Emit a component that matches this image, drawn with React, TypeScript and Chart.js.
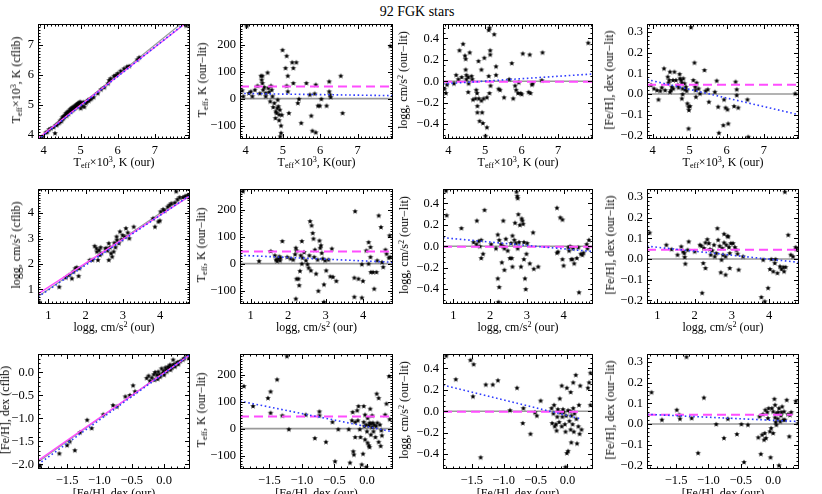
import React, { useEffect, useRef } from "react";
import { Chart, registerables } from "chart.js";

Chart.register(...registerables);

type Pt = [number, number];

// ---------------- axis ranges & tick labels ----------------
const teffRange = [3.85, 7.95];
const teffTicks = [4, 5, 6, 7];
const teffTickLabels = ["4", "5", "6", "7"];
const teffLitRange = [3.86, 7.7];
const loggRange = [0.72, 4.8];
const loggTicks = [1, 2, 3, 4];
const loggTickLabels = ["1", "2", "3", "4"];
const loggLitRange = [0.42, 4.95];
const fehRange = [-1.95, 0.4];
const fehTicks = [-1.5, -1.0, -0.5, 0.0];
const fehTickLabels = ["\u22121.5", "\u22121.0", "\u22120.5", "0.0"];
const fehLitRange = [-2.1, 0.4];
const fehLitTicks = [-2.0, -1.5, -1.0, -0.5, 0.0];
const fehLitTickLabels = ["\u22122.0", "\u22121.5", "\u22121.0", "\u22120.5", "0.0"];
const dTeffRange = [-150, 277];
const dTeffTicks = [-100, 0, 100, 200];
const dTeffTickLabels = ["\u2212100", "0", "100", "200"];
const dLoggRange = [-0.54, 0.535];
const dLoggTicks = [-0.4, -0.2, 0, 0.2, 0.4];
const dLoggTickLabels = ["\u22120.4", "\u22120.2", "0.0", "0.2", "0.4"];
const dFehRange = [-0.217, 0.338];
const dFehTicks = [-0.2, -0.1, 0, 0.1, 0.2, 0.3];
const dFehTickLabels = ["\u22120.2", "\u22120.1", "0.0", "0.1", "0.2", "0.3"];

// mean offsets (our - lit)
const dTeffMean = 45;
const dLoggMean = -0.004;
const dFehMean = 0.045;

// ---------------- row 1: x = Teff (our) ----------------
const teffLitVsTeff: Pt[] = [
  [3.97, 3.94], [4.06, 4.08], [4.1, 4.1], [4.15, 4.19], [4.2, 4.22], [4.27, 4.26], [4.31, 4.06], [4.33, 4.33],
  [4.36, 4.34], [4.4, 4.39], [4.43, 4.42], [4.45, 4.48], [4.48, 4.46], [4.49, 4.52], [4.51, 4.59], [4.53, 4.55],
  [4.54, 4.63], [4.56, 4.6], [4.58, 4.67], [4.6, 4.72], [4.62, 4.64], [4.63, 4.74], [4.65, 4.78], [4.67, 4.7],
  [4.69, 4.81], [4.72, 4.86], [4.73, 4.78], [4.75, 4.89], [4.77, 4.82], [4.78, 4.92], [4.8, 4.85], [4.81, 4.94],
  [4.84, 4.97], [4.85, 4.9], [4.87, 5.0], [4.88, 4.93], [4.9, 5.03], [4.92, 4.97], [4.93, 5.06], [4.96, 5.08],
  [4.97, 5.02], [4.99, 5.11], [5.0, 4.89], [5.02, 5.07], [5.05, 4.97], [5.08, 5.1], [5.1, 4.94], [5.14, 5.06],
  [5.17, 5.11], [5.2, 5.17], [5.22, 5.14], [5.26, 5.19], [5.29, 5.22], [5.35, 5.26], [5.46, 5.39], [5.55, 5.52],
  [5.64, 5.59], [5.74, 5.72], [5.77, 5.83], [5.81, 5.89], [5.9, 5.97], [5.95, 6.0], [6.0, 6.06], [6.08, 6.14],
  [6.17, 6.22], [6.25, 6.28], [6.31, 6.3], [6.53, 6.52], [6.58, 6.59], [7.85, 7.65],
];
const dTeffVsTeff: Pt[] = [
  [4.03, 270], [3.91, 31], [3.94, 9], [4.09, 21], [4.14, 27], [4.18, 9], [4.25, 33], [4.32, 48], [4.38, 20],
  [4.41, 85], [4.45, 85], [4.43, 70], [4.45, 58], [4.47, 33], [4.5, 43], [4.54, 21], [4.59, 97], [4.61, 40],
  [4.54, 9], [4.63, 25], [4.66, -10], [4.68, 48], [4.7, 33], [4.72, 9], [4.74, -31], [4.77, -16], [4.81, -47],
  [4.8, -72], [4.83, -53], [4.85, -35], [4.86, -4], [4.88, -28], [4.9, -59], [4.92, -41], [4.97, -60],
  [4.95, -100], [4.9, -80], [4.95, -127], [4.93, -140], [4.99, 181], [5.1, 159], [5.07, 114], [5.13, 85],
  [5.1, 48], [5.13, 27], [5.16, -53], [5.25, 135], [5.28, 114], [5.36, 135], [5.28, 58], [5.43, -1],
  [5.4, -16], [5.49, -90], [5.63, 58], [5.72, 15], [5.76, -63], [5.79, -119], [5.88, -125], [5.88, 52],
  [5.85, 19], [5.94, -26], [5.99, -26], [6.03, -1], [6.17, -26], [6.24, 64], [6.24, 27], [6.26, 15],
  [6.28, 6], [6.55, 85], [6.6, -53], [7.88, 196],
];
const dLoggVsTeff: Pt[] = [
  [3.89, -0.07], [3.93, -0.11], [3.96, -0.03], [4.15, -0.02], [4.21, 0.06], [4.27, 0.02], [4.3, 0.29],
  [4.4, 0.35], [4.36, 0.04], [4.45, 0.24], [4.47, 0.21], [4.47, 0.11], [4.49, 0.06], [4.49, 0.02],
  [4.54, 0.04], [4.55, -0.02], [4.54, -0.1], [4.58, 0.27], [4.63, 0.05], [4.65, 0.02], [4.67, -0.17],
  [4.74, -0.16], [4.76, -0.08], [4.78, -0.11], [4.79, -0.23], [4.79, -0.29], [4.82, 0.19], [4.83, -0.16],
  [4.85, -0.37], [4.9, 0.11], [4.9, -0.18], [4.92, -0.29], [4.94, -0.39], [4.96, -0.16], [4.98, 0.22],
  [5.01, -0.51], [5.05, -0.43], [5.05, -0.15], [5.1, 0.48], [5.12, 0.5], [5.14, 0.25], [5.14, 0.29],
  [5.1, 0.05], [5.15, -0.04], [5.12, -0.11], [5.25, 0.44], [5.3, 0.14], [5.3, 0.06], [5.37, -0.07],
  [5.41, -0.08], [5.52, -0.15], [5.66, 0.02], [5.73, 0.17], [5.77, -0.16], [5.82, -0.04], [5.85, -0.08],
  [5.9, -0.11], [5.92, -0.01], [6.03, 0.26], [5.97, -0.11], [6.0, -0.12], [6.22, 0.25], [6.24, -0.11],
  [6.19, -0.1], [6.28, -0.03], [6.3, -0.02], [6.57, 0.27], [6.55, 0.01], [7.82, 0.36],
];
const dFehVsTeff: Pt[] = [
  [3.96, 0.044], [4.04, 0.027], [4.12, 0.019], [4.16, -0.026], [4.21, 0.016], [4.25, 0.032], [4.31, 0.124],
  [4.34, 0.019], [4.41, 0.084], [4.43, 0.055], [4.45, 0.068], [4.47, 0.108], [4.47, 0.011], [4.5, 0.019],
  [4.52, 0.035], [4.55, 0.068], [4.59, 0.108], [4.56, 0.027], [4.63, 0.068], [4.68, 0.044], [4.7, 0.032],
  [4.73, 0.097], [4.74, 0.076], [4.77, 0.068], [4.79, 0.055], [4.81, 0.027], [4.81, 0.0], [4.79, -0.021],
  [4.83, 0.076], [4.86, 0.052], [4.88, 0.023], [4.9, 0.035], [4.92, 0.016], [4.94, -0.045], [4.97, -0.061],
  [4.98, -0.077], [5.01, -0.058], [4.97, -0.166], [5.04, 0.323], [5.1, 0.068], [5.13, 0.152], [5.15, 0.035],
  [5.16, 0.019], [5.17, -0.013], [5.19, 0.055], [5.24, 0.027], [5.28, 0.003], [5.4, 0.116], [5.43, 0.016],
  [5.49, 0.023], [5.52, -0.037], [5.68, 0.011], [5.73, 0.065], [5.77, -0.061], [5.79, -0.187], [5.91, -0.15],
  [5.93, -0.026], [5.97, -0.065], [6.02, -0.074], [6.04, -0.142], [6.2, -0.058], [6.24, 0.06], [6.27, 0.023],
  [6.27, -0.005], [6.31, -0.065], [6.56, -0.026], [6.58, -0.206], [7.85, 0.003],
];

// ---------------- row 2: x = logg (our) ----------------
const loggLitVsLogg: Pt[] = [
  [0.75, 0.51], [1.29, 1.1], [1.47, 1.47], [1.56, 1.57], [1.63, 1.43], [1.67, 1.7], [1.72, 1.83], [1.76, 1.87],
  [1.81, 1.53], [1.83, 1.83], [2.11, 2.16], [2.18, 2.16], [2.24, 2.71], [2.29, 2.62], [2.3, 2.49], [2.33, 2.16],
  [2.36, 2.55], [2.38, 2.36], [2.42, 2.42], [2.4, 2.66], [2.53, 2.62], [2.56, 2.62], [2.59, 2.53], [2.62, 2.16],
  [2.65, 2.66], [2.62, 2.82], [2.68, 2.42], [2.71, 2.29], [2.75, 2.49], [2.8, 2.66], [2.77, 2.84], [2.83, 3.08],
  [2.84, 2.95], [2.89, 2.82], [2.92, 3.28], [2.96, 2.97], [2.99, 3.14], [3.05, 3.08], [3.08, 3.41], [3.13, 3.24],
  [3.17, 3.01], [3.29, 3.47], [3.81, 3.8], [3.86, 3.47], [3.95, 3.67], [3.99, 3.71], [4.01, 4.07], [4.08, 4.16],
  [4.12, 4.1], [4.2, 4.26], [4.25, 4.33], [4.3, 4.39], [4.39, 4.42], [4.46, 4.55], [4.52, 4.63], [4.43, 4.86],
  [4.61, 4.63], [4.67, 4.68], [4.74, 4.72], [4.78, 4.63],
];
const dTeffVsLogg: Pt[] = [
  [0.8, 269], [1.23, 10], [1.54, 47], [1.65, 31], [1.68, 15], [1.71, 10], [1.74, 19], [1.77, 27], [1.79, 12],
  [1.8, 22], [1.85, 84], [1.98, 25], [2.07, 19], [2.14, 15], [2.19, 35], [2.21, 59], [2.23, 49], [2.23, -56],
  [2.21, -130], [2.28, -56], [2.3, -80], [2.32, -27], [2.34, 31], [2.37, 84], [2.37, 0], [2.39, 22], [2.43, 43],
  [2.48, 12], [2.52, -2], [2.55, -15], [2.57, 31], [2.59, 158], [2.61, -25], [2.63, 142], [2.66, 114],
  [2.68, 93], [2.7, 25], [2.72, 52], [2.75, -37], [2.79, 15], [2.81, -101], [2.84, 86], [2.86, 59], [2.88, 68],
  [2.9, 40], [2.93, 19], [2.96, -77], [2.99, 12], [2.96, -142], [3.02, -25], [3.08, 15], [3.13, -47],
  [3.2, -49], [3.17, 56], [3.29, -64], [3.79, 195], [3.77, -123], [3.77, -52], [3.88, -56], [3.97, -126],
  [4.0, -64], [3.97, -2], [4.09, 49], [4.15, 80], [4.2, 62], [4.15, 0], [4.2, 25], [4.21, -31], [4.27, -31],
  [4.3, -93], [4.36, -31], [4.38, 12], [4.42, 179], [4.48, 136], [4.51, 6], [4.54, -12], [4.6, 52], [4.63, 37],
  [4.69, 22], [4.71, 105], [4.73, 25],
];
const dLoggVsLogg: Pt[] = [
  [0.82, 0.29], [0.8, 0.52], [1.22, 0.17], [1.64, 0.24], [1.55, 0.04], [1.63, 0.02], [1.69, 0.05], [1.72, 0.0],
  [1.76, 0.06], [1.76, -0.11], [1.81, -0.07], [1.85, 0.34], [2.03, 0.02], [2.16, -0.02], [2.21, 0.11],
  [2.25, 0.06], [2.21, -0.3], [2.25, -0.38], [2.23, -0.52], [2.3, 0.02], [2.32, -0.15], [2.36, 0.0],
  [2.36, 0.24], [2.39, -0.02], [2.39, -0.22], [2.43, 0.07], [2.48, -0.04], [2.54, -0.11], [2.57, 0.03],
  [2.59, -0.11], [2.61, 0.1], [2.61, -0.19], [2.66, 0.06], [2.68, 0.22], [2.7, 0.03], [2.72, 0.51],
  [2.75, 0.45], [2.74, 0.47], [2.75, -0.02], [2.77, 0.3], [2.79, 0.04], [2.81, 0.2], [2.84, -0.19],
  [2.86, 0.26], [2.88, 0.24], [2.9, 0.21], [2.92, 0.04], [2.92, -0.12], [2.95, -0.3], [2.97, -0.4],
  [2.99, -0.07], [3.01, 0.03], [3.08, -0.16], [3.17, 0.13], [3.19, -0.21], [3.31, -0.19], [3.82, 0.36],
  [3.91, 0.27], [3.97, 0.25], [3.82, -0.06], [3.85, -0.05], [3.97, -0.12], [4.0, -0.18], [4.13, -0.01],
  [4.15, -0.04], [4.18, 0.0], [4.21, -0.12], [4.24, -0.12], [4.29, -0.16], [4.26, -0.02], [4.36, -0.11],
  [4.4, -0.01], [4.42, -0.43], [4.47, -0.07], [4.51, -0.08], [4.54, -0.06], [4.63, 0.02], [4.65, -0.02],
  [4.69, 0.06],
];
const dFehVsLogg: Pt[] = [
  [0.79, 0.128], [1.24, 0.069], [1.38, 0.048], [1.54, 0.021], [1.64, 0.061], [1.69, 0.037], [1.72, 0.029],
  [1.73, 0.01], [1.75, -0.022], [1.81, 0.045], [1.84, 0.085], [2.0, 0.037], [2.14, 0.069], [2.18, 0.064],
  [2.2, -0.163], [2.23, -0.019], [2.29, -0.043], [2.25, 0.053], [2.29, 0.08], [2.34, 0.096], [2.38, 0.077],
  [2.41, 0.048], [2.43, 0.021], [2.47, 0.042], [2.52, 0.069], [2.54, 0.013], [2.58, 0.029], [2.61, 0.149],
  [2.63, 0.093], [2.67, 0.064], [2.7, -0.064], [2.72, -0.003], [2.74, 0.053], [2.76, 0.021], [2.79, 0.08],
  [2.79, 0.122], [2.83, -0.075], [2.83, 0.013], [2.85, 0.069], [2.88, 0.112], [2.9, 0.109], [2.92, 0.058],
  [2.94, 0.029], [2.94, -0.043], [2.97, 0.077], [3.03, 0.077], [3.08, 0.058], [3.12, 0.045], [3.15, 0.026],
  [3.18, -0.051], [3.3, 0.013], [3.79, -0.183], [3.84, -0.003], [3.88, -0.204], [3.97, -0.139], [4.02, -0.048],
  [4.06, 0.0], [4.11, -0.059], [4.15, -0.019], [4.17, 0.0], [4.22, -0.067], [4.29, -0.035], [4.33, -0.048],
  [4.38, -0.038], [4.4, -0.059], [4.44, -0.038], [4.42, 0.325], [4.51, 0.117], [4.58, 0.021], [4.64, 0.013],
  [4.71, 0.058], [4.73, 0.048],
];

// ---------------- row 3: x = [Fe/H] (our) ----------------
const fehLitVsFeh: Pt[] = [
  [-1.92, -2.03], [-1.62, -1.76], [-1.5, -1.58], [-1.46, -1.5], [-1.38, -1.69], [-1.3, -1.3], [-1.19, -1.03],
  [-1.12, -1.21], [-0.94, -0.91], [-0.79, -0.71], [-0.73, -0.74], [-0.6, -0.52], [-0.53, -0.49], [-0.48, -0.28],
  [-0.45, -0.41], [-0.27, -0.12], [-0.24, -0.07], [-0.22, -0.18], [-0.19, -0.11], [-0.16, -0.04], [-0.15, -0.16],
  [-0.14, 0.01], [-0.11, -0.05], [-0.1, -0.14], [-0.09, 0.02], [-0.07, -0.04], [-0.06, -0.09], [-0.04, 0.09],
  [-0.02, -0.01], [-0.01, 0.04], [0.0, -0.05], [0.02, 0.11], [0.03, 0.06], [0.04, 0.02], [0.06, 0.13],
  [0.07, 0.08], [0.08, 0.11], [0.09, 0.17], [0.1, 0.06], [0.12, 0.11], [0.13, 0.15], [0.14, 0.28],
  [0.15, 0.18], [0.17, 0.13], [0.19, 0.2], [0.21, 0.23], [0.22, 0.18], [0.25, 0.25], [0.29, 0.28],
  [0.31, 0.31], [0.35, 0.39], [0.38, 0.31],
];
const dTeffVsFeh: Pt[] = [
  [-1.89, 158], [-1.75, 84], [-1.52, 114], [-1.48, 138], [-1.48, 59], [-1.38, 183], [-1.3, 49], [-1.2, -2],
  [-1.23, 269], [-0.94, 52], [-0.8, -35], [-0.73, 49], [-0.73, 64], [-0.63, -49], [-0.53, 25], [-0.49, -121],
  [-0.44, -2], [-0.28, -2], [-0.26, -126], [-0.23, 31], [-0.22, 62], [-0.21, -84], [-0.2, -96], [-0.18, 25],
  [-0.18, -31], [-0.15, 68], [-0.14, 31], [-0.13, 84], [-0.11, -2], [-0.1, -31], [-0.08, -133], [-0.06, -93],
  [-0.05, 84], [-0.05, 25], [-0.04, 10], [-0.03, 52], [-0.03, -40], [-0.01, 15], [-0.01, -142], [0.0, -10],
  [0.01, -52], [0.01, 40], [0.03, -62], [0.03, 12], [0.04, -68], [0.04, 22], [0.05, 74], [0.06, -22],
  [0.06, 19], [0.08, 49], [0.08, 6], [0.09, 22], [0.1, -10], [0.11, 15], [0.13, -31], [0.14, 10], [0.15, 130],
  [0.16, 22], [0.18, 114], [0.18, -49], [0.2, 15], [0.21, -64], [0.22, -6], [0.23, -25], [0.28, 52], [0.3, 93],
  [0.34, 195], [0.35, 35],
];
const dLoggVsFeh: Pt[] = [
  [-1.9, 0.52], [-1.75, 0.3], [-1.52, 0.48], [-1.47, 0.44], [-1.48, 0.14], [-1.36, -0.43], [-1.28, 0.25],
  [-1.17, 0.25], [-1.09, 0.29], [-0.9, 0.01], [-0.79, 0.22], [-0.7, -0.11], [-0.69, 0.03], [-0.58, -0.21],
  [-0.51, -0.01], [-0.48, -0.04], [-0.42, 0.1], [-0.25, 0.03], [-0.24, -0.11], [-0.22, -0.02], [-0.21, 0.06],
  [-0.2, -0.14], [-0.18, -0.12], [-0.17, -0.18], [-0.16, -0.05], [-0.15, 0.02], [-0.13, -0.1], [-0.12, 0.12],
  [-0.11, -0.01], [-0.09, 0.24], [-0.09, -0.14], [-0.08, -0.05], [-0.07, 0.02], [-0.06, -0.01], [-0.04, -0.12],
  [-0.03, -0.19], [-0.02, -0.04], [-0.01, 0.22], [-0.01, -0.39], [0.01, -0.37], [0.01, 0.01], [0.03, -0.09],
  [0.04, 0.0], [0.05, 0.18], [0.05, -0.17], [0.06, -0.04], [0.06, -0.29], [0.08, -0.12], [0.09, 0.03],
  [0.09, 0.27], [0.1, -0.19], [0.11, -0.02], [0.13, 0.34], [0.14, -0.07], [0.15, -0.3], [0.17, -0.14],
  [0.18, 0.06], [0.19, -0.21], [0.2, 0.24], [0.22, -0.17], [-0.03, -0.52], [0.32, 0.22], [0.34, 0.27],
  [0.36, 0.36], [0.36, 0.06],
];
const dFehVsFeh: Pt[] = [
  [-1.88, 0.154], [-1.72, 0.021], [-1.49, 0.069], [-1.45, 0.045], [-1.44, 0.026], [-1.34, 0.325], [-1.26, 0.029],
  [-1.16, -0.139], [-1.07, 0.128], [-0.88, 0.0], [-0.7, 0.026], [-0.76, -0.067], [-0.56, -0.048], [-0.49, 0.0],
  [-0.45, -0.183], [-0.39, -0.003], [-0.23, -0.064], [-0.21, 0.037], [-0.19, -0.144], [-0.17, -0.051],
  [-0.16, 0.048], [-0.14, -0.075], [-0.13, -0.043], [-0.12, 0.069], [-0.11, -0.067], [-0.09, 0.058],
  [-0.08, 0.029], [-0.07, 0.077], [-0.05, -0.035], [-0.04, -0.16], [-0.03, -0.019], [-0.02, 0.077],
  [0.0, -0.043], [0.0, 0.061], [0.02, 0.122], [0.03, 0.093], [0.03, 0.032], [0.04, 0.01], [0.05, -0.003],
  [0.05, 0.053], [0.07, 0.026], [0.08, 0.058], [0.09, 0.077], [0.09, -0.199], [0.11, 0.013], [0.12, 0.042],
  [0.13, 0.058], [0.14, 0.085], [0.16, 0.021], [0.17, 0.061], [0.18, 0.021], [0.21, 0.117], [0.23, 0.048],
  [0.25, -0.059], [0.26, 0.045], [0.28, 0.058], [0.35, 0.112], [0.39, 0.005],
];

// ---------------- fitted lines (end points) ----------------
const fitTeffLit: Pt[] = [[3.85, 3.84], [7.95, 7.86]];
const meanTeffLit: Pt[] = [[3.85, 3.88], [7.95, 7.84]];
const fitLoggLit: Pt[] = [[0.72, 0.7], [4.8, 4.7]];
const meanLoggLit: Pt[] = [[0.72, 0.82], [4.8, 4.68]];
const fitFehLit: Pt[] = [[-1.95, -2.0], [0.4, 0.39]];
const meanFehLit: Pt[] = [[-1.95, -1.92], [0.4, 0.38]];
const fitDTeffVsTeff: Pt[] = [[3.85, 19], [7.95, 11]];
const fitDLoggVsTeff: Pt[] = [[3.85, -0.025], [7.95, 0.068]];
const fitDFehVsTeff: Pt[] = [[3.85, 0.07], [7.95, -0.1]];
const fitDTeffVsLogg: Pt[] = [[0.72, 31], [4.8, 5]];
const fitDLoggVsLogg: Pt[] = [[0.72, 0.08], [4.8, -0.05]];
const fitDFehVsLogg: Pt[] = [[0.72, 0.062], [4.8, -0.016]];
const fitDTeffVsFeh: Pt[] = [[-1.95, 102], [0.4, -12]];
const fitDLoggVsFeh: Pt[] = [[-1.95, 0.245], [0.2, -0.07]];
const fitDFehVsFeh: Pt[] = [[-1.95, 0.047], [0.4, 0.012]];

// ---------------- styling ----------------
const FONT = '"Liberation Serif", "Times New Roman", Times, serif';
const MAGENTA = "#ff4dff";
const BLUE = "#2f3cff";
const GRAY = "#9a9a9a";

const colsLeft = [38, 240, 443, 647];
const colsW = [152, 153, 150, 152];
const rowsTop = [24, 189, 354];
const FH = 115;
const ML = 50, MB = 32, MT = 12, MR = 8;

let starImg: HTMLCanvasElement | null = null;
function getStar() {
  if (starImg) return starImg;
  const r = 2.9;
  const size = 8;
  const c = document.createElement("canvas");
  c.width = size;
  c.height = size;
  const ctx = c.getContext("2d")!;
  ctx.fillStyle = "#000";
  ctx.beginPath();
  for (let i = 0; i < 10; i++) {
    const rad = i % 2 === 0 ? r : r * 0.45;
    const a = -Math.PI / 2 + (i * Math.PI) / 5;
    const x = size / 2 + rad * Math.cos(a);
    const y = size / 2 + 0.3 + rad * Math.sin(a);
    if (i === 0) ctx.moveTo(x, y);
    else ctx.lineTo(x, y);
  }
  ctx.closePath();
  ctx.fill();
  starImg = c;
  return c;
}

const framePlugin = {
  id: "idlFrame",
  afterDraw(chart: any, _args: any, opts: any) {
    const { ctx, chartArea: a, scales } = chart;
    const xs = scales.x, ys = scales.y;
    ctx.save();
    ctx.strokeStyle = "#000";
    ctx.lineWidth = 1;
    ctx.strokeRect(a.left + 0.5, a.top + 0.5, a.right - a.left - 1, a.bottom - a.top - 1);
    const majL = 5, minL = 2.5;
    const mark = (axis: "x" | "y", v: number, len: number) => {
      if (axis === "x") {
        const p = Math.round(xs.getPixelForValue(v)) + 0.5;
        if (p < a.left || p > a.right) return;
        ctx.moveTo(p, a.bottom); ctx.lineTo(p, a.bottom - len);
        ctx.moveTo(p, a.top); ctx.lineTo(p, a.top + len);
      } else {
        const p = Math.round(ys.getPixelForValue(v)) + 0.5;
        if (p < a.top || p > a.bottom) return;
        ctx.moveTo(a.left, p); ctx.lineTo(a.left + len, p);
        ctx.moveTo(a.right, p); ctx.lineTo(a.right - len, p);
      }
    };
    ctx.beginPath();
    const minors = (axis: "x" | "y", step: number) => {
      const sc = axis === "x" ? xs : ys;
      const k0 = Math.ceil(sc.min / step - 1e-9), k1 = Math.floor(sc.max / step + 1e-9);
      for (let k = k0; k <= k1; k++) mark(axis, k * step, minL);
    };
    minors("x", opts.xMinor);
    minors("y", opts.yMinor);
    opts.xMajor.forEach((v: number) => mark("x", v, majL));
    opts.yMajor.forEach((v: number) => mark("y", v, majL));
    ctx.stroke();
    ctx.restore();
  },
};

const Sub = ({ children }: { children: React.ReactNode }) => (
  <span style={{ fontSize: "68%", position: "relative", top: "0.3em" }}>{children}</span>
);
const Sup = ({ children }: { children: React.ReactNode }) => (
  <span style={{ fontSize: "68%", position: "relative", top: "-0.5em" }}>{children}</span>
);

interface LineDef { data: Pt[]; color: string; width: number; dash: number[] }
interface PanelCfg {
  row: number; col: number;
  xr: number[]; yr: number[];
  xt: number[]; xl: string[]; yt: number[]; yl: string[];
  xMinor: number; yMinor: number;
  pts: Pt[];
  lines: LineDef[];
  under: LineDef[];
  xTitle: React.ReactNode; yTitle: React.ReactNode; yTitleX: number;
}

const zeroLine = (xr: number[]): LineDef => ({ data: [[xr[0], 0], [xr[1], 0]], color: GRAY, width: 1.6, dash: [] });
const meanLine = (xr: number[], m: number, xEnd?: number): LineDef => ({
  data: [[xr[0], m], [xEnd ?? xr[1], m]], color: MAGENTA, width: 2, dash: [9, 5],
});
const fitLine = (d: Pt[]): LineDef => ({ data: d, color: BLUE, width: 1.6, dash: [1.6, 2.6] });
const oneToOne = (xr: number[]): LineDef => ({ data: [[xr[0], xr[0]], [xr[1], xr[1]]], color: GRAY, width: 1.2, dash: [] });
const solidMean = (d: Pt[]): LineDef => ({ data: d, color: MAGENTA, width: 1.4, dash: [] });

const tTeff = (s: string) => <>T<Sub>eff</Sub>×10<Sup>3</Sup>, K{s}</>;
const tTeffD = <>T<Sub>eff</Sub>, K (our−lit)</>;
const tLogg = (s: string) => <>logg, cm/s<Sup>2</Sup> {s}</>;
const tFeh = (s: string) => <>[Fe/H], dex {s}</>;

const panels: PanelCfg[] = [
  {
    row: 0, col: 0, xr: teffRange, yr: teffLitRange, xt: teffTicks, xl: teffTickLabels, yt: teffTicks, yl: teffTickLabels,
    xMinor: 0.1, yMinor: 0.1, pts: teffLitVsTeff,
    lines: [fitLine(fitTeffLit), solidMean(meanTeffLit)], under: [oneToOne(teffRange)],
    xTitle: tTeff(" (our)"), yTitle: tTeff(" (cflib)"), yTitleX: 17,
  },
  {
    row: 0, col: 1, xr: teffRange, yr: dTeffRange, xt: teffTicks, xl: teffTickLabels, yt: dTeffTicks, yl: dTeffTickLabels,
    xMinor: 0.1, yMinor: 10, pts: dTeffVsTeff,
    lines: [fitLine(fitDTeffVsTeff), meanLine(teffRange, dTeffMean)], under: [zeroLine(teffRange)],
    xTitle: tTeff("(our)"), yTitle: tTeffD, yTitleX: 203,
  },
  {
    row: 0, col: 2, xr: teffRange, yr: dLoggRange, xt: teffTicks, xl: teffTickLabels, yt: dLoggTicks, yl: dLoggTickLabels,
    xMinor: 0.1, yMinor: 0.05, pts: dLoggVsTeff,
    lines: [fitLine(fitDLoggVsTeff), meanLine(teffRange, dLoggMean)], under: [zeroLine(teffRange)],
    xTitle: tTeff(" (our)"), yTitle: tLogg("(our−lit)"), yTitleX: 404,
  },
  {
    row: 0, col: 3, xr: teffRange, yr: dFehRange, xt: teffTicks, xl: teffTickLabels, yt: dFehTicks, yl: dFehTickLabels,
    xMinor: 0.1, yMinor: 0.02, pts: dFehVsTeff,
    lines: [fitLine(fitDFehVsTeff), meanLine(teffRange, dFehMean)], under: [zeroLine(teffRange)],
    xTitle: tTeff(" (our)"), yTitle: tFeh("(our−lit)"), yTitleX: 609,
  },
  {
    row: 1, col: 0, xr: loggRange, yr: loggLitRange, xt: loggTicks, xl: loggTickLabels, yt: loggTicks, yl: loggTickLabels,
    xMinor: 0.1, yMinor: 0.1, pts: loggLitVsLogg,
    lines: [fitLine(fitLoggLit), solidMean(meanLoggLit)], under: [oneToOne(loggRange)],
    xTitle: tLogg("(our)"), yTitle: tLogg("(cflib)"), yTitleX: 17,
  },
  {
    row: 1, col: 1, xr: loggRange, yr: dTeffRange, xt: loggTicks, xl: loggTickLabels, yt: dTeffTicks, yl: dTeffTickLabels,
    xMinor: 0.1, yMinor: 10, pts: dTeffVsLogg,
    lines: [fitLine(fitDTeffVsLogg), meanLine(loggRange, dTeffMean)], under: [zeroLine(loggRange)],
    xTitle: tLogg("(our)"), yTitle: tTeffD, yTitleX: 202,
  },
  {
    row: 1, col: 2, xr: loggRange, yr: dLoggRange, xt: loggTicks, xl: loggTickLabels, yt: dLoggTicks, yl: dLoggTickLabels,
    xMinor: 0.1, yMinor: 0.05, pts: dLoggVsLogg,
    lines: [fitLine(fitDLoggVsLogg), meanLine(loggRange, dLoggMean)], under: [zeroLine(loggRange)],
    xTitle: tLogg("(our)"), yTitle: tLogg("(our−lit)"), yTitleX: 405,
  },
  {
    row: 1, col: 3, xr: loggRange, yr: dFehRange, xt: loggTicks, xl: loggTickLabels, yt: dFehTicks, yl: dFehTickLabels,
    xMinor: 0.1, yMinor: 0.02, pts: dFehVsLogg,
    lines: [fitLine(fitDFehVsLogg), meanLine(loggRange, dFehMean)], under: [zeroLine(loggRange)],
    xTitle: tLogg("(our)"), yTitle: tFeh("(our−lit)"), yTitleX: 610,
  },
  {
    row: 2, col: 0, xr: fehRange, yr: fehLitRange, xt: fehTicks, xl: fehTickLabels, yt: fehLitTicks, yl: fehLitTickLabels,
    xMinor: 0.1, yMinor: 0.1, pts: fehLitVsFeh,
    lines: [fitLine(fitFehLit), solidMean(meanFehLit)], under: [oneToOne(fehRange)],
    xTitle: tFeh("(our)"), yTitle: tFeh("(cflib)"), yTitleX: 5,
  },
  {
    row: 2, col: 1, xr: fehRange, yr: dTeffRange, xt: fehTicks, xl: fehTickLabels, yt: dTeffTicks, yl: dTeffTickLabels,
    xMinor: 0.1, yMinor: 10, pts: dTeffVsFeh,
    lines: [fitLine(fitDTeffVsFeh), meanLine(fehRange, dTeffMean, 0.36)], under: [zeroLine(fehRange)],
    xTitle: tFeh("(our)"), yTitle: tTeffD, yTitleX: 202,
  },
  {
    row: 2, col: 2, xr: fehRange, yr: dLoggRange, xt: fehTicks, xl: fehTickLabels, yt: dLoggTicks, yl: dLoggTickLabels,
    xMinor: 0.1, yMinor: 0.05, pts: dLoggVsFeh,
    lines: [fitLine(fitDLoggVsFeh), meanLine(fehRange, dLoggMean, 0.2)], under: [zeroLine(fehRange)],
    xTitle: tFeh("(our)"), yTitle: tLogg("(our−lit)"), yTitleX: 405,
  },
  {
    row: 2, col: 3, xr: fehRange, yr: dFehRange, xt: fehTicks, xl: fehTickLabels, yt: dFehTicks, yl: dFehTickLabels,
    xMinor: 0.1, yMinor: 0.02, pts: dFehVsFeh,
    lines: [fitLine(fitDFehVsFeh), meanLine(fehRange, dFehMean, 0.3)], under: [zeroLine(fehRange)],
    xTitle: tFeh("(our)"), yTitle: tFeh("(our−lit)"), yTitleX: 610,
  },
];

function labelFor(vals: number[], labels: string[], v: number) {
  const i = vals.findIndex((t) => Math.abs(t - v) < 1e-9);
  return i >= 0 ? labels[i] : "";
}

function lineDataset(l: LineDef) {
  return {
    data: l.data.map(([x, y]) => ({ x, y })),
    showLine: true,
    borderColor: l.color,
    borderWidth: l.width,
    borderDash: l.dash,
    pointRadius: 0,
    fill: false,
    tension: 0,
  };
}

function Panel({ cfg }: { cfg: PanelCfg }) {
  const ref = useRef<HTMLCanvasElement>(null);
  const fw = colsW[cfg.col];
  const W = fw + ML + MR;
  const H = FH + MT + MB;
  useEffect(() => {
    const tickFont = { family: FONT, size: 12.5 };
    const chart = new Chart(ref.current!, {
      type: "scatter",
      data: {
        datasets: [
          ...cfg.lines.map(lineDataset),
          {
            data: cfg.pts.map(([x, y]) => ({ x, y })),
            pointStyle: getStar() as any,
            pointRadius: 3.5,
            showLine: false,
          },
          ...cfg.under.map(lineDataset),
        ] as any,
      },
      options: {
        responsive: false,
        animation: false,
        events: [],
        devicePixelRatio: 1,
        layout: { padding: { top: MT, right: MR, left: 0, bottom: 0 } },
        plugins: {
          legend: { display: false },
          tooltip: { enabled: false },
          idlFrame: { xMajor: cfg.xt, yMajor: cfg.yt, xMinor: cfg.xMinor, yMinor: cfg.yMinor },
        } as any,
        scales: {
          x: {
            type: "linear",
            position: "bottom",
            min: cfg.xr[0],
            max: cfg.xr[1],
            grid: { display: false, drawTicks: false },
            border: { display: false },
            ticks: {
              font: tickFont, color: "#000", padding: 4, autoSkip: false, maxRotation: 0,
              callback: (v: any) => labelFor(cfg.xt, cfg.xl, Number(v)),
            },
            afterBuildTicks: (s: any) => { s.ticks = cfg.xt.map((v) => ({ value: v })); },
            afterFit: (s: any) => { s.height = MB; s.paddingLeft = 0; s.paddingRight = 0; },
          },
          y: {
            type: "linear",
            position: "left",
            min: cfg.yr[0],
            max: cfg.yr[1],
            grid: { display: false, drawTicks: false },
            border: { display: false },
            ticks: {
              font: tickFont, color: "#000", padding: 4, autoSkip: false,
              callback: (v: any) => labelFor(cfg.yt, cfg.yl, Number(v)),
            },
            afterBuildTicks: (s: any) => { s.ticks = cfg.yt.map((v) => ({ value: v })); },
            afterFit: (s: any) => { s.width = ML; s.paddingTop = 0; s.paddingBottom = 0; },
          },
        } as any,
      },
      plugins: [framePlugin as any],
    });
    return () => chart.destroy();
  }, [cfg]);

  const left = colsLeft[cfg.col];
  const top = rowsTop[cfg.row];
  const titleStyle: React.CSSProperties = {
    position: "absolute", fontFamily: FONT, fontSize: 12, whiteSpace: "nowrap", color: "#000", lineHeight: "14px",
  };
  return (
    <>
      <canvas
        ref={ref}
        width={W}
        height={H}
        style={{ position: "absolute", left: left - ML, top: top - MT, width: W, height: H }}
      />
      <div style={{ ...titleStyle, left: left + fw / 2, top: top + FH + 24, transform: "translate(-50%, -50%)" }}>
        {cfg.xTitle}
      </div>
      <div
        style={{
          ...titleStyle, left: cfg.yTitleX, top: top + FH / 2 - 2,
          transform: "translate(-50%, -50%) rotate(-90deg)",
        }}
      >
        {cfg.yTitle}
      </div>
    </>
  );
}

export default function App() {
  return (
    <div
      style={{
        position: "absolute", left: 0, top: 0, width: 822, height: 494, background: "#fff", overflow: "hidden",
      }}
    >
      <div
        style={{
          position: "absolute", left: 417, top: 12, transform: "translate(-50%, -50%)",
          fontFamily: FONT, fontSize: 14, whiteSpace: "nowrap", color: "#000",
        }}
      >
        92 FGK stars
      </div>
      {panels.map((p, i) => (
        <Panel key={i} cfg={p} />
      ))}
    </div>
  );
}
